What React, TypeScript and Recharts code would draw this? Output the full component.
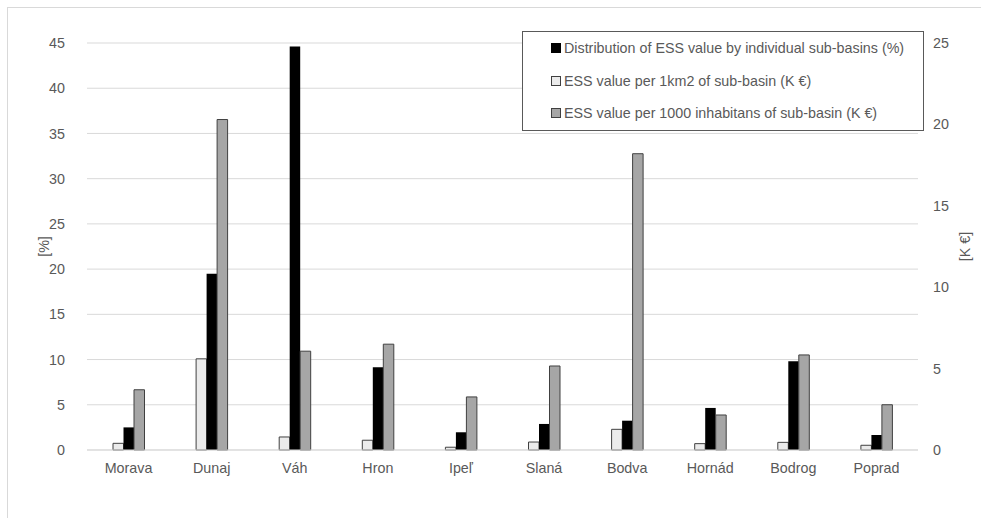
import React from 'react';
import {
  BarChart,
  Bar,
  XAxis,
  YAxis,
  CartesianGrid,
  Legend,
} from 'recharts';

// sub-basins
const BASINS = ['Morava', 'Dunaj', 'Váh', 'Hron', 'Ipeľ', 'Slaná', 'Bodva', 'Hornád', 'Bodrog', 'Poprad'];

// distribution of ESS value (%) - left axis
const SHARE_PCT = [2.5, 19.5, 44.6, 9.15, 1.96, 2.88, 3.24, 4.65, 9.8, 1.66];
// ESS value per 1 km2 (K €) - right axis
const PER_KM2 = [0.41, 5.6, 0.8, 0.6, 0.17, 0.49, 1.27, 0.39, 0.47, 0.29];
// ESS value per 1000 inhabitants (K €) - right axis
const PER_1000_INHAB = [3.7, 20.3, 6.07, 6.5, 3.26, 5.16, 18.2, 2.15, 5.84, 2.78];

const LEFT_TICKS = [0, 5, 10, 15, 20, 25, 30, 35, 40, 45];
const RIGHT_TICKS = [0, 5, 10, 15, 20, 25];

const LEGEND_ITEMS = [
  { label: 'Distribution of ESS value by individual sub-basins (%)', fill: '#000000', stroke: '#000000' },
  { label: 'ESS value per 1km2 of sub-basin (K €)', fill: '#ebebeb', stroke: '#404040' },
  { label: 'ESS value per 1000 inhabitans of sub-basin (K €)', fill: '#a6a6a6', stroke: '#404040' },
];

const data = BASINS.map((name, i) => ({
  name,
  share: SHARE_PCT[i],
  perKm2: PER_KM2[i],
  perInhab: PER_1000_INHAB[i],
}));

const TEXT = '#595959';
const GRID = '#d9d9d9';
const FONT = 14.3;

// boxed legend like the Excel original
const renderLegend = () => (
  <div
    style={{
      width: 402,
      height: 100,
      boxSizing: 'border-box',
      border: '1px solid #595959',
      background: '#fff',
      paddingTop: 0,
    }}
  >
    {LEGEND_ITEMS.map((it) => (
      <div
        key={it.label}
        style={{ display: 'flex', alignItems: 'center', height: 32.5, paddingLeft: 28, color: TEXT, fontSize: FONT, whiteSpace: 'nowrap' }}
      >
        <span
          style={{
            display: 'inline-block',
            width: 8,
            height: 8,
            background: it.fill,
            border: `1px solid ${it.stroke}`,
            marginRight: 3,
          }}
        />
        {it.label}
      </div>
    ))}
  </div>
);

const axisTitle = (text: string, dx: number) => (props: any) => {
  const { x, y, width, height } = props.viewBox;
  const cx = x + width / 2 + dx;
  const cy = y + height / 2;
  return (
    <text
      x={cx}
      y={cy}
      fill={TEXT}
      fontSize={FONT}
      textAnchor="middle"
      dominantBaseline="central"
      transform={`rotate(-90 ${cx} ${cy})`}
    >
      {text}
    </text>
  );
};

export default function App() {
  return (
    <div style={{ position: 'absolute', left: 0, top: 0, width: 981, height: 518, fontFamily: '"Liberation Sans", Arial, sans-serif', background: '#fff' }}>
      <div
        style={{
          position: 'absolute',
          left: 7,
          top: 7,
          width: 974,
          height: 511,
          borderLeft: `1px solid ${GRID}`,
          borderTop: `1px solid ${GRID}`,
        }}
      />
      <div style={{ position: 'absolute', left: 0, top: 0 }}>
        <BarChart
          width={981}
          height={518}
          data={data}
          margin={{ top: 43, right: 0, bottom: 8, left: 0 }}
          barGap={0}
          barSize={10.5}
        >
          <CartesianGrid yAxisId="left" vertical={false} stroke={GRID} strokeWidth={1} />
          <XAxis
            dataKey="name"
            height={60}
            axisLine={{ stroke: GRID }}
            tickLine={false}
            tickSize={0}
            tickMargin={13}
            tick={{ fill: TEXT, fontSize: FONT }}
            interval={0}
          />
          <YAxis
            yAxisId="left"
            orientation="left"
            width={87}
            domain={[0, 45]}
            ticks={LEFT_TICKS}
            axisLine={false}
            tickLine={false}
            tickSize={0}
            tickMargin={22}
            tick={{ fill: TEXT, fontSize: FONT }}
            label={axisTitle('[%]', 0)}
          />
          <YAxis
            yAxisId="right"
            orientation="right"
            width={63}
            domain={[0, 25]}
            ticks={RIGHT_TICKS}
            axisLine={false}
            tickLine={false}
            tickSize={0}
            tickMargin={15}
            tick={{ fill: TEXT, fontSize: FONT }}
            label={axisTitle('[K €]', 15)}
          />
          <Legend
            layout="horizontal"
            verticalAlign="middle"
            align="center"
            content={renderLegend}
            wrapperStyle={{ position: 'absolute', left: 522, top: 31, width: 402, height: 100 }}
          />
          <Bar yAxisId="right" dataKey="perKm2" fill="#ebebeb" stroke="#404040" strokeWidth={1} isAnimationActive={false} />
          <Bar yAxisId="left" dataKey="share" fill="#000000" isAnimationActive={false} />
          <Bar yAxisId="right" dataKey="perInhab" fill="#a6a6a6" stroke="#404040" strokeWidth={1} isAnimationActive={false} />
        </BarChart>
      </div>
    </div>
  );
}
